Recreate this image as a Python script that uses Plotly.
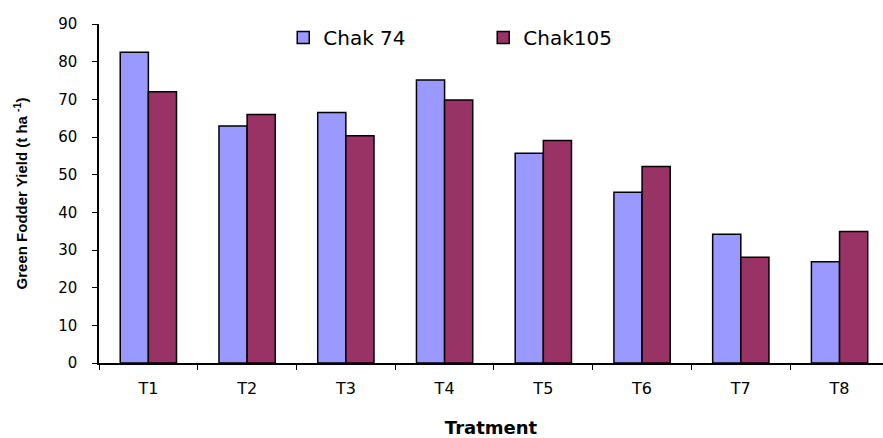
import plotly.graph_objects as go

categories = ["T1", "T2", "T3", "T4", "T5", "T6", "T7", "T8"]
chak74 = [82.5, 62.9, 66.5, 75.1, 55.7, 45.3, 34.2, 26.9]
chak105 = [72.0, 66.0, 60.3, 69.8, 59.1, 52.2, 28.1, 34.9]

fig = go.Figure()
fig.add_trace(go.Bar(x=categories, y=chak74, name="Chak 74",
                     marker=dict(color="#9999FF", line=dict(color="black", width=1.5))))
fig.add_trace(go.Bar(x=categories, y=chak105, name="Chak105",
                     marker=dict(color="#993366", line=dict(color="black", width=1.5))))

fig.update_layout(
    width=883, height=438,
    margin=dict(l=99, r=0, t=24, b=75, autoexpand=False),
    paper_bgcolor="white", plot_bgcolor="white",
    barmode="group", bargap=0.43, bargroupgap=0,
    font=dict(family="DejaVu Sans, sans-serif", size=15, color="black"),
    legend=dict(orientation="h", x=0.235, y=0.96, xanchor="left", yanchor="middle",
                font=dict(size=20), bgcolor="rgba(0,0,0,0)", itemwidth=30,
                entrywidth=155, tracegroupgap=0),
    xaxis=dict(range=[-0.5, 7.44], showline=True, linecolor="black", linewidth=1.5,
               ticks="outside", tickson="boundaries", ticklen=5, tickcolor="black",
               tickfont=dict(size=16), ticklabelstandoff=10, automargin=False,
               title=dict(text="<b>Tratment</b>", font=dict(size=18), standoff=24)),
    yaxis=dict(range=[0, 90], dtick=10, showline=True, linecolor="black", linewidth=1.5,
               ticks="outside", ticklen=5, tickcolor="black", showgrid=False,
               zeroline=False, tickfont=dict(size=15), ticklabelstandoff=12,
               automargin=False,
               title=dict(text="<b>Green Fodder Yield (t ha <sup>-1</sup>)</b>",
                          font=dict(size=15, family="Liberation Sans, Arial, sans-serif"),
                          standoff=27)),
)

fig.write_html("out.html", config={"displayModeBar": False},
               post_script="document.body.style.margin='0';document.body.style.overflow='hidden';")
